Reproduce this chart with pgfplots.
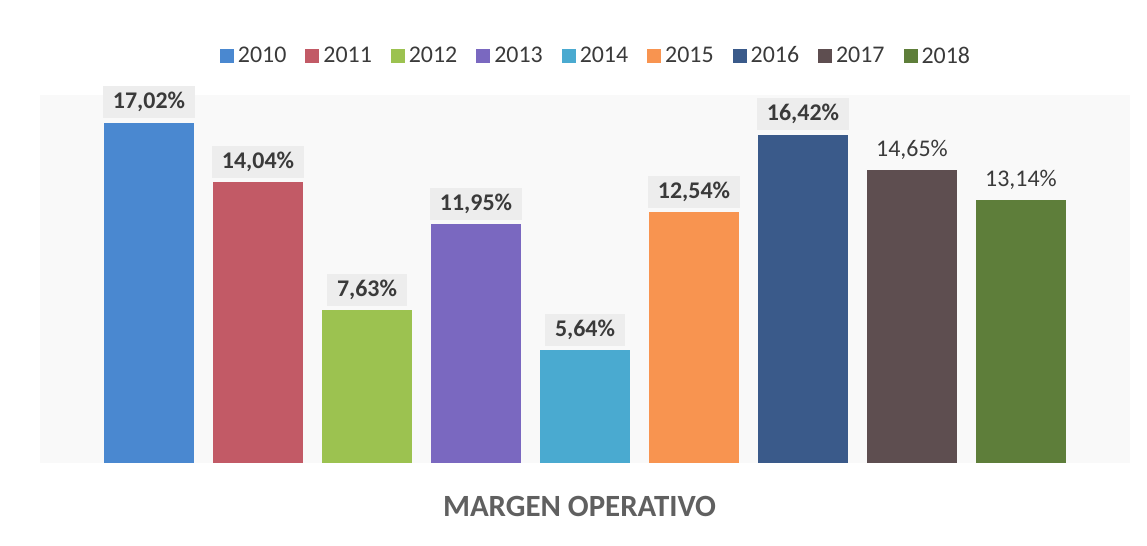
\documentclass[border=0pt]{standalone}
\usepackage{pgfplots}
\pgfplotsset{compat=1.18}
\usepackage{fontspec}
\setmainfont{Carlito}

\definecolor{c10}{HTML}{4A88D0}
\definecolor{c11}{HTML}{C25A66}
\definecolor{c12}{HTML}{9CC250}
\definecolor{c13}{HTML}{7A68C0}
\definecolor{c14}{HTML}{4AAAD0}
\definecolor{c15}{HTML}{F89450}
\definecolor{c16}{HTML}{3A5A8A}
\definecolor{c17}{HTML}{5E4E50}
\definecolor{c18}{HTML}{5E7E3A}
\definecolor{txt}{HTML}{3A3A3A}

\pgfplotsset{
  boxlbl/.style={every node near coord/.append style={font=\fontsize{12}{14}\selectfont\bfseries, fill=gray!14, inner xsep=5bp, inner ysep=3bp}},
  plainlbl/.style={every node near coord/.append style={font=\fontsize{12}{14}\selectfont, inner xsep=5bp, inner ysep=3bp}},
}

\begin{document}
\begin{tikzpicture}
\useasboundingbox (-20bp,-41.5bp) rectangle (553.5bp,231.5bp);
\begin{axis}[
  scale only axis, width=545bp, height=184bp,
  xmin=-1, xmax=9, ymin=0, ymax=18.4,
  clip=false,
  axis line style={draw=none},
  xtick=\empty, ytick=\empty,
  axis background/.style={fill=gray!5},
  ybar, bar width=45bp, bar shift=0pt,
  /pgf/number format/assume math mode=true,
  nodes near coords={\pgfmathprintnumber[fixed,fixed zerofill,precision=2,use comma]{\pgfplotspointmeta}\%},
  every node near coord/.append style={text=txt, anchor=south, yshift=2bp},
  legend columns=9,
  legend style={at={(0.511,1.105)}, anchor=center, draw=none, fill=none,
    font=\fontsize{12}{14}\selectfont, text=txt,
    /tikz/every even column/.append style={column sep=7.5bp}},
  legend image code/.code={\fill[#1] (0bp,-3.5bp) rectangle (7bp,3.5bp);},
]
\addplot[fill=c10, draw=none, boxlbl] coordinates {(0,17.02)};
\addlegendentry{2010}
\addplot[fill=c11, draw=none, boxlbl] coordinates {(1,14.04)};
\addlegendentry{2011}
\addplot[fill=c12, draw=none, boxlbl] coordinates {(2,7.63)};
\addlegendentry{2012}
\addplot[fill=c13, draw=none, boxlbl] coordinates {(3,11.95)};
\addlegendentry{2013}
\addplot[fill=c14, draw=none, boxlbl] coordinates {(4,5.64)};
\addlegendentry{2014}
\addplot[fill=c15, draw=none, boxlbl] coordinates {(5,12.54)};
\addlegendentry{2015}
\addplot[fill=c16, draw=none, boxlbl] coordinates {(6,16.42)};
\addlegendentry{2016}
\addplot[fill=c17, draw=none, plainlbl] coordinates {(7,14.65)};
\addlegendentry{2017}
\addplot[fill=c18, draw=none, plainlbl] coordinates {(8,13.14)};
\addlegendentry{2018}
\node[font=\fontsize{15.5}{18}\selectfont\bfseries, text=gray!75!black] at (axis description cs:0.495,-0.118) {MARGEN OPERATIVO};
\end{axis}
\end{tikzpicture}
\end{document}
